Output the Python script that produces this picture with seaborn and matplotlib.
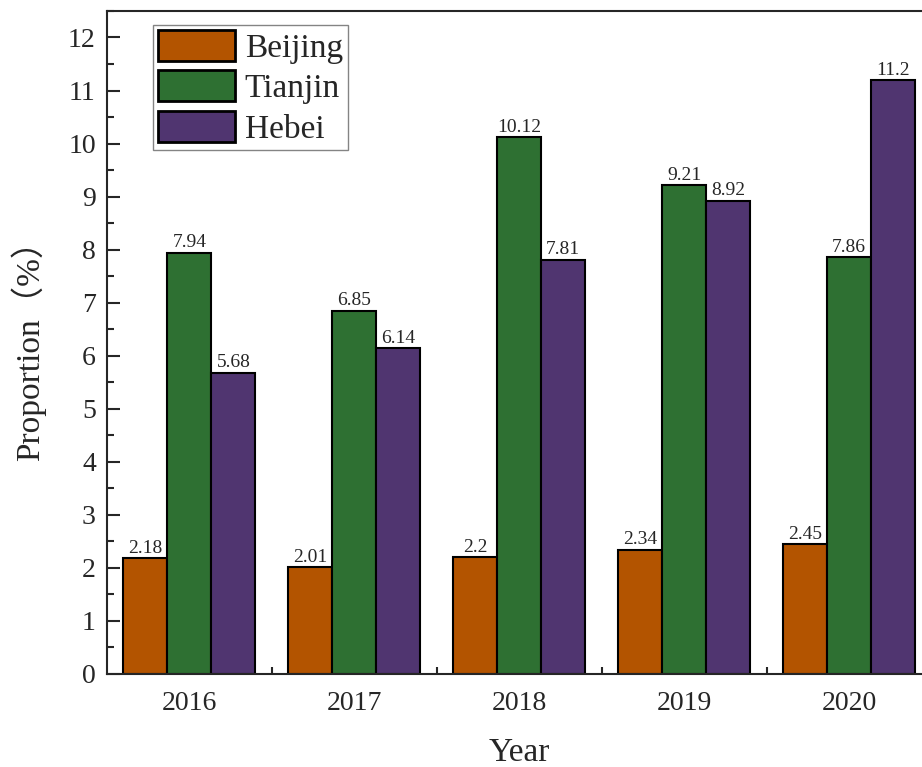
import pandas as pd
import seaborn as sns
import matplotlib.pyplot as plt
from matplotlib.ticker import MultipleLocator, FixedLocator

years = ["2016", "2017", "2018", "2019", "2020"]
regions = ["Beijing", "Tianjin", "Hebei"]
beijing = [2.18, 2.01, 2.2, 2.34, 2.45]
tianjin = [7.94, 6.85, 10.12, 9.21, 7.86]
hebei = [5.68, 6.14, 7.81, 8.92, 11.2]
colors = ["#B35400", "#2E7032", "#503570"]

df = pd.DataFrame({
    "Year": years * 3,
    "Region": ["Beijing"] * 5 + ["Tianjin"] * 5 + ["Hebei"] * 5,
    "Proportion": beijing + tianjin + hebei,
})

sns.set_style("ticks")
plt.rcParams["font.family"] = ["Liberation Serif", "Noto Sans CJK SC"]

fig = plt.figure(figsize=(9.22, 7.67), dpi=100)
ax = fig.add_axes([0.116, 0.1213, 0.8943, 0.8644])

sns.barplot(data=df, x="Year", y="Proportion", hue="Region", hue_order=regions,
            palette=colors, width=0.8, edgecolor="black", linewidth=1.5,
            saturation=1, ax=ax)

for c in ax.containers:
    ax.bar_label(c, fmt="%g", padding=1, fontsize=14)

ax.set_xlim(-0.5, 4.5)
ax.set_ylim(0, 12.5)
ax.yaxis.set_major_locator(MultipleLocator(1))
ax.yaxis.set_minor_locator(MultipleLocator(0.5))
ax.xaxis.set_minor_locator(FixedLocator([0.5, 1.5, 2.5, 3.5]))

ax.tick_params(axis="y", which="major", direction="in", length=9, width=1.5,
               labelsize=20, pad=8)
ax.tick_params(axis="y", which="minor", direction="in", length=5, width=1.5)
ax.tick_params(axis="x", which="major", length=0, labelsize=20, pad=12)
ax.tick_params(axis="x", which="minor", direction="in", length=5, width=1.5)

for s in ax.spines.values():
    s.set_linewidth(1.5)

ax.set_xlabel("Year", fontsize=24, labelpad=16)
ax.set_ylabel("Proportion（%）", fontsize=24, labelpad=16)

leg = ax.legend(loc="upper left", bbox_to_anchor=(0.056, 0.979), borderaxespad=0,
                fontsize=24, frameon=True, fancybox=False, edgecolor="#666666",
                handlelength=2.3, handleheight=1.05, handletextpad=0.3,
                labelspacing=0.2, borderpad=0.15)
leg.get_frame().set_linewidth(1)
for h in leg.legend_handles:
    h.set_linewidth(2)

fig.savefig("out.png", dpi=100)
